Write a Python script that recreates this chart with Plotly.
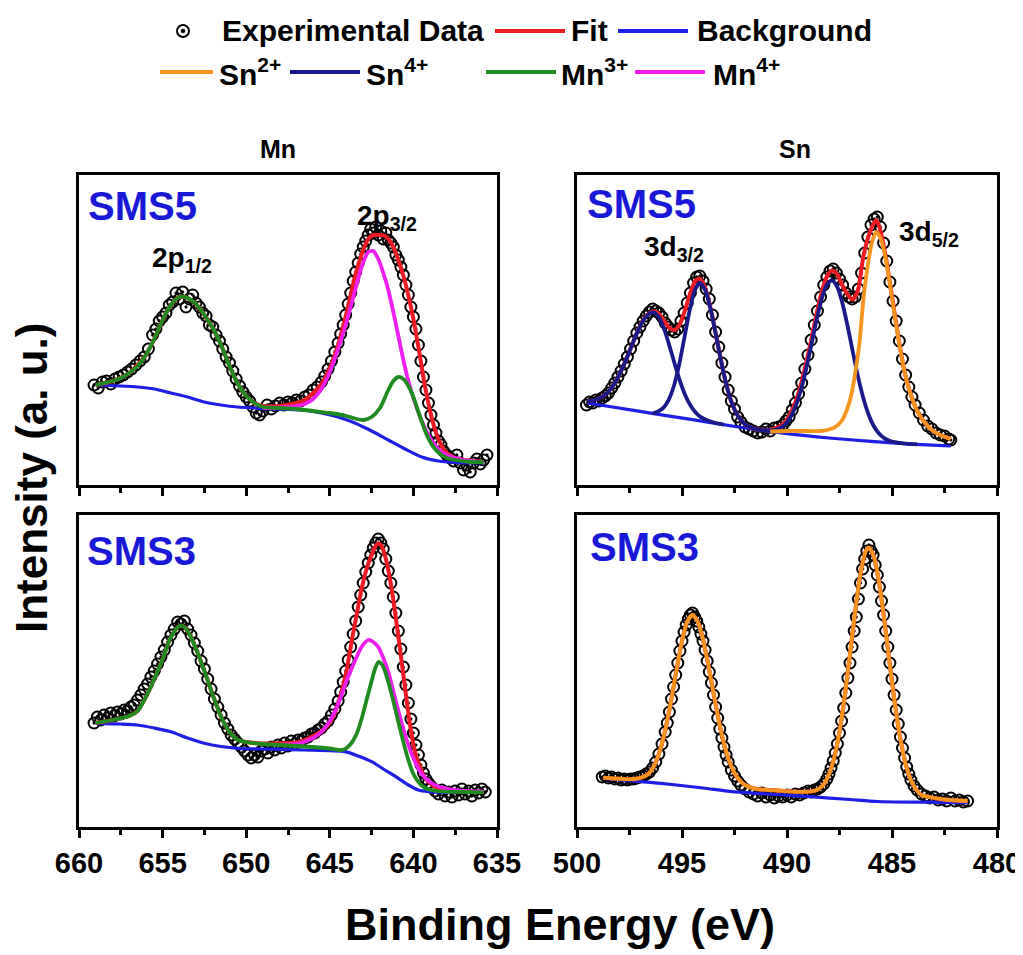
import plotly.graph_objects as go

# The page body adds an 8 px margin, so the figure is sized to fit the
# 1023x955 window and every layout position is given in window pixels.
OFF = 8
W, H = 1023 - OFF, 955 - OFF
FONT = "Liberation Sans, Arial, Helvetica, sans-serif"

# ------------------------------------------------------------------
# DATA  (binding energy in eV, intensity in arbitrary units)
# ------------------------------------------------------------------
# Mn 2p, SMS5
MN5_EXP = [(659.1,100),(658.85,97),(658.6,103),(658.35,104),(658.1,101),(657.85,106),(657.6,108),(657.35,110),
    (657.1,113),(656.85,116),(656.6,120),(656.35,124),(656.1,128),(655.85,136),(655.6,150),(655.4,156),(655.2,164),
    (655.0,168),(654.8,172),(654.6,180),(654.4,183),(654.2,192),(654.0,186),(653.8,193),(653.6,178),(653.4,186),
    (653.2,190),(653.0,182),(652.8,178),(652.6,172),(652.4,169),(652.2,160),(652.0,158),(651.8,150),(651.6,144),
    (651.4,136),(651.2,128),(651.0,122),(650.8,114),(650.6,106),(650.4,99),(650.2,93),(650.0,88),(649.8,84),
    (649.6,78),(649.4,72),(649.2,70),(649.0,74),(648.75,80),(648.5,76),(648.25,79),(648.0,82),(647.75,80),
    (647.5,83),(647.25,82),(647.0,85),(646.75,84),(646.5,88),(646.25,90),(646.0,95),(645.75,98),(645.5,103),
    (645.3,109),(645.1,116),(644.9,124),(644.7,133),(644.5,142),(644.35,151),(644.2,160),(644.05,170),(643.9,181),
    (643.75,192),(643.6,204),(643.45,213),(643.3,222),(643.15,231),(643.0,238),(642.85,244),(642.7,250),(642.55,256),
    (642.4,252),(642.25,258),(642.1,250),(641.95,254),(641.8,246),(641.65,252),(641.5,245),(641.35,242),(641.2,238),
    (641.05,230),(640.9,225),(640.75,218),(640.6,210),(640.45,200),(640.3,190),(640.15,178),(640.0,168),(639.85,156),
    (639.7,140),(639.55,124),(639.4,108),(639.25,95),(639.1,82),(638.95,70),(638.8,60),(638.65,52),(638.5,44),
    (638.35,40),(638.2,34),(638.0,30),(637.8,27),(637.6,24),(637.4,30),(637.2,22),(637.0,15),(636.8,20),(636.6,13),
    (636.4,22),(636.2,26),(636.0,21),(635.8,25),(635.6,30)]
MN5_BG = [(659.0,100),(657.5,99),(656.5,98),(655.5,96),(654.5,92),(653.5,88),(652.5,83),(651.5,80),(650.5,78),
    (649.5,77),(648.5,76),(647.5,75.5),(646.5,74.5),(645.5,72),(644.5,68),(643.5,62),(642.5,54),(641.5,45),
    (640.5,36),(639.5,28),(638.5,24),(637.5,22.5),(636.5,22),(635.8,22)]
MN5_FIT = [(659.0,100),(658.0,104),(657.0,112),(656.0,130),(655.5,146),(655.0,165),(654.5,180),(654.0,188),
    (653.5,187),(653.0,181),(652.5,170),(652.0,157),(651.5,140),(651.0,119),(650.5,101),(650.0,89),(649.5,82),
    (649.0,79),(648.0,79),(647.0,82),(646.5,85),(646.0,92),(645.5,101),(645.0,117),(644.5,140),(644.0,172),
    (643.5,208),(643.0,235),(642.7,246),(642.4,250),(642.0,250),(641.7,249),(641.4,244),(641.1,234),(640.8,220),
    (640.5,203),(640.2,182),(639.9,157),(639.6,128),(639.3,98),(639.0,74),(638.7,55),(638.4,42),(638.0,32),
    (637.5,27),(636.5,24),(635.8,23)]
MN5_MN3 = [(659.0,100),(658.0,104),(657.5,107),(657.0,112),(656.5,119),(656.0,130),(655.5,146),(655.0,165),
    (654.5,180),(654.0,188),(653.5,187),(653.0,181),(652.5,170),(652.0,157),(651.5,140),(651.0,119),(650.5,101),
    (650.0,89),(649.5,82),(649.0,78),(648.0,77),(647.0,76),(646.0,74),(645.0,72),(644.0,69),(643.5,66.5),
    (643.0,65),(642.5,68),(642.0,77),(641.5,95),(641.2,104),(640.9,108),(640.6,106),(640.3,99),(640.0,88),
    (639.6,68),(639.2,50),(638.8,38),(638.4,31),(638.0,27),(637.5,25),(636.5,23),(635.8,23)]
MN5_MN4 = [(649.0,77),(648.0,77.5),(647.0,79),(646.5,81),(646.0,86),(645.5,96),(645.0,113),(644.5,136),
    (644.0,163),(643.5,194),(643.1,218),(642.7,233),(642.4,234),(642.1,226),(641.8,212),(641.5,195),(641.2,173),
    (640.9,149),(640.6,125),(640.3,104),(640.0,87),(639.5,64),(639.0,47),(638.5,36),(638.0,30),(637.5,27),
    (636.5,24),(635.8,23)]

# Sn 3d, SMS5
SN5_EXP = [(499.55,80),(499.4,83),(499.25,82),(499.1,85),(498.95,84),(498.8,87),(498.65,89),(498.5,92),
    (498.35,97),(498.2,102),(498.05,108),(497.9,114),(497.75,121),(497.6,128),(497.45,136),(497.3,144),
    (497.15,152),(497.0,158),(496.85,164),(496.7,169),(496.55,173),(496.4,176),(496.25,174),(496.1,172),
    (495.95,168),(495.8,162),(495.65,158),(495.5,155),(495.35,153),(495.2,156),(495.05,164),(494.9,172),
    (494.75,182),(494.6,192),(494.45,202),(494.3,208),(494.15,209),(494.0,204),(493.85,196),(493.7,186),
    (493.55,170),(493.4,153),(493.25,138),(493.1,122),(492.95,108),(492.8,95),(492.65,84),(492.5,76),
    (492.35,68),(492.2,63),(492.0,58),(491.8,56),(491.6,54),(491.4,52),(491.2,53),(491.0,56),(490.8,54),
    (490.6,57),(490.4,58),(490.2,60),(490.05,64),(489.9,68),(489.75,75),(489.6,82),(489.45,91),(489.3,102),
    (489.15,116),(489.0,130),(488.85,145),(488.7,160),(488.55,174),(488.4,188),(488.25,200),(488.1,208),
    (487.95,214),(487.8,216),(487.65,212),(487.5,206),(487.35,200),(487.2,192),(487.05,188),(486.9,186),
    (486.75,188),(486.6,196),(486.45,212),(486.3,232),(486.15,248),(486.0,260),(485.85,266),(485.7,268),
    (485.55,258),(485.4,242),(485.25,224),(485.1,203),(484.95,184),(484.8,164),(484.65,144),(484.5,126),
    (484.35,110),(484.2,98),(484.05,88),(483.9,80),(483.7,72),(483.5,65),(483.3,59),(483.1,56),(482.9,52),
    (482.7,50),(482.5,49),(482.3,46),(482.2,45)]
SN5_BG = [(499.5,82),(497.0,73.6),(494.5,65.3),(492.0,57),(490.0,51.3),(488.0,47),(486.0,43.6),(484.0,40.8),
    (482.2,39)]
SN5_FIT = [(499.5,83.7),(499.0,86),(498.6,91.4),(498.35,97.4),(498.1,105.8),(497.85,116.4),(497.6,128.6),
    (497.35,141.7),(497.1,154.4),(496.85,165),(496.6,171.1),(496.35,173.7),(496.1,171.1),(495.85,164.1),
    (495.6,157.1),(495.35,155),(495.1,161.1),(494.85,175.1),(494.6,192.3),(494.35,204.7),(494.14,206.3),
    (493.89,196.6),(493.64,176.8),(493.39,150.9),(493.14,123.9),(492.89,100.6),(492.64,82.8),(492.39,70.9),
    (492.14,63.6),(491.89,59.3),(491.64,57),(491.3,55.2),(490.87,55),(490.37,58.5),(490.12,62.5),(489.87,70),
    (489.62,81.5),(489.37,98),(489.12,119),(488.87,142.6),(488.62,168.3),(488.37,191.1),(488.12,207.5),
    (487.87,214.5),(487.62,211),(487.37,199.8),(487.12,190.6),(486.87,185.6),(486.62,195),(486.37,228),
    (486.12,248.7),(485.87,261.6),(485.75,264.8),(485.62,259.5),(485.37,236.3),(485.12,205.1),(484.87,170.9),
    (484.62,137.6),(484.37,110),(484.05,87),(483.8,74),(483.5,64),(483.1,55),(482.7,50),(482.2,46)]
SN5_SN4_A = [(499.5,83.7),(499.0,86),(498.6,91.4),(498.35,97.4),(498.1,105.8),(497.85,116.4),(497.6,128.6),
    (497.35,141.7),(497.1,154.1),(496.85,164.2),(496.6,170.7),(496.35,172.5),(496.1,167.7),(495.85,155.8),
    (495.6,139.3),(495.35,121.2),(495.1,104.2),(494.85,90.1),(494.6,79.7),(494.35,72.5),(494.1,67.8),
    (493.6,63.2),(493.0,60.3)]
SN5_SN4_B = [(496.4,71.5),(496.14,73.5),(495.89,77.1),(495.64,84.9),(495.39,98.7),(495.14,120),(494.89,146.8),
    (494.64,174.1),(494.39,194.8),(494.14,202),(493.89,194.6),(493.64,176),(493.39,150.6),(493.14,123.9),
    (492.89,100.6),(492.64,82.8),(492.39,70.9),(492.14,63.6),(491.89,59.3),(491.64,57),(491.3,55)]
SN5_SN4_C = [(491.37,55.2),(490.87,54.5),(490.62,55),(490.37,56.5),(490.12,60.1),(489.87,66.6),(489.62,77.2),
    (489.37,92.7),(489.12,113.2),(488.87,137.3),(488.62,162.3),(488.37,184.5),(488.12,199.7),(487.87,204.7),
    (487.62,198.7),(487.37,182.6),(487.12,159.5),(486.87,133.6),(486.62,108.6),(486.37,87.2),(486.12,70.7),
    (485.87,59),(485.62,51.5),(485.37,46.9),(485.12,44.3),(484.87,42.8),(484.37,41.3),(483.8,40.7)]
SN5_SN2 = [(490.8,53.5),(490.0,54),(489.0,54),(488.4,54),(488.0,55.5),(487.7,58),(487.4,64),(487.15,75),
    (486.95,89),(486.75,112),(486.55,142),(486.35,188),(486.15,220),(485.95,243),(485.75,253),(485.55,247),
    (485.3,226),(485.05,194),(484.8,160),(484.55,129),(484.3,104),(484.05,87),(483.8,74),(483.5,64),(483.1,55),
    (482.7,50),(482.2,46)]

# Mn 2p, SMS3
MN3_EXP = [(659.1,104),(658.9,110),(658.7,107),(658.5,112),(658.3,109),(658.1,114),(657.9,111),(657.7,115),
    (657.5,113),(657.3,117),(657.1,116),(656.9,120),(656.7,122),(656.5,127),(656.3,132),(656.1,138),(655.9,143),
    (655.7,150),(655.5,156),(655.3,163),(655.1,170),(654.9,177),(654.7,185),(654.5,192),(654.3,198),(654.1,205),
    (653.9,203),(653.7,206),(653.5,198),(653.3,192),(653.1,184),(652.9,176),(652.7,166),(652.5,158),(652.3,148),
    (652.1,138),(651.9,128),(651.7,120),(651.5,112),(651.3,104),(651.1,98),(650.9,92),(650.7,88),(650.5,84),
    (650.3,80),(650.1,76),(649.9,72),(649.7,69),(649.5,72),(649.3,70),(649.1,76),(648.9,78),(648.7,74),(648.5,80),
    (648.3,77),(648.1,82),(647.9,79),(647.7,84),(647.5,81),(647.3,86),(647.1,83),(646.9,87),(646.7,86),(646.5,89),
    (646.3,90),(646.1,93),(645.9,94),(645.7,97),(645.5,99),(645.3,103),(645.1,106),(644.9,112),(644.7,118),
    (644.5,126),(644.35,135),(644.2,145),(644.05,156),(643.9,167),(643.75,180),(643.6,193),(643.45,206),
    (643.3,220),(643.15,232),(643.0,244),(642.85,255),(642.7,264),(642.55,272),(642.4,279),(642.25,284),
    (642.1,288),(641.95,284),(641.8,278),(641.65,268),(641.5,256),(641.35,244),(641.2,230),(641.05,214),
    (640.9,196),(640.75,178),(640.6,160),(640.45,142),(640.3,124),(640.15,108),(640.0,94),(639.85,82),(639.7,72),
    (639.55,62),(639.4,54),(639.25,48),(639.1,44),(638.9,40),(638.7,36),(638.5,33),(638.3,37),(638.1,31),
    (637.9,35),(637.7,30),(637.5,36),(637.3,32),(637.1,38),(636.9,33),(636.7,36),(636.5,31),(636.3,37),
    (636.1,34),(635.9,38),(635.7,35)]
MN3_BG = [(659.0,103.7),(657.5,103),(656.5,102),(655.5,99),(654.5,95.3),(653.5,89),(652.5,83.7),(651.5,80.5),
    (650.5,78.7),(648.5,77.8),(646.5,77),(644.1,75.3),(643.3,71),(642.5,65.3),(641.7,57),(640.9,48.7),(640.3,42),
    (639.7,37),(639.1,35.3),(638.5,34.7),(635.8,34.7)]
MN3_FIT = [(659.0,104),(658.0,107),(657.0,111),(656.5,116),(656.0,130),(655.5,148),(655.0,168),(654.5,190),
    (654.0,201),(653.7,200),(653.4,193),(653.0,178),(652.5,156),(652.0,132),(651.5,110),(651.0,95),(650.5,87),
    (650.0,85),(649.0,83.5),(648.1,83.7),(647.0,84.5),(646.5,87),(646.0,91),(645.5,96),(645.1,102),(644.7,114),
    (644.3,135),(644.0,156),(643.7,185),(643.4,212),(643.1,238),(642.8,258),(642.5,272),(642.3,280),(642.1,283.7),
    (641.9,281),(641.6,265),(641.35,243),(641.1,215),(640.8,178),(640.5,139),(640.2,102),(639.9,75),(639.6,60),
    (639.3,49),(638.9,42),(638.5,38.5),(638.1,37),(637.0,35.5),(635.8,35.3)]
MN3_MN3 = [(659.0,104),(658.0,107),(657.0,111),(656.5,116),(656.0,130),(655.5,148),(655.0,168),(654.5,190),
    (654.0,201),(653.7,200),(653.4,193),(653.0,178),(652.5,156),(652.0,132),(651.5,110),(651.0,95),(650.5,87),
    (650.0,85),(649.0,83),(648.0,82),(647.0,81),(646.0,80),(645.0,78.5),(644.3,77),(644.0,79),(643.7,84),
    (643.4,93),(643.1,108),(642.8,127),(642.5,146),(642.3,158),(642.1,165),(641.9,163),(641.7,156),(641.5,145),
    (641.2,126),(640.9,105),(640.6,85),(640.3,67),(640.0,53),(639.7,45),(639.3,39),(638.8,36.5),(638.1,35.3),
    (637.0,35),(635.8,34.7)]
MN3_MN4 = [(648.1,82),(647.0,83),(646.5,85.3),(646.0,89),(645.5,95),(645.0,106),(644.5,123),(644.0,146),
    (643.5,166),(643.1,180),(642.7,187),(642.4,185),(642.1,180),(641.8,169),(641.5,155),(641.1,129),(640.7,104),
    (640.3,82),(639.9,65),(639.5,53),(639.0,45),(638.5,40.5),(638.0,38.5),(637.0,36),(635.8,35.3)]

# Sn 3d, SMS3
SN3_EXP = [(498.8,50),(498.65,51),(498.5,49),(498.35,50),(498.2,48),(498.05,49),(497.9,47),(497.75,48),
    (497.6,47),(497.45,48),(497.3,48),(497.15,49),(497.0,50),(496.85,51),(496.7,53),(496.55,55),(496.4,59),
    (496.25,65),(496.1,73),(495.95,83),(495.8,95),(495.7,104),(495.6,115),(495.5,128),(495.4,140),(495.3,152),
    (495.2,164),(495.1,176),(495.0,186),(494.9,195),(494.8,202),(494.7,208),(494.6,212),(494.5,214),(494.4,210),
    (494.3,206),(494.2,200),(494.1,193),(494.0,186),(493.9,177),(493.8,166),(493.7,155),(493.6,144),(493.5,132),
    (493.4,120),(493.3,109),(493.2,98),(493.1,89),(493.0,80),(492.9,72),(492.8,65),(492.65,57),(492.5,51),
    (492.35,46),(492.2,42),(492.0,38),(491.8,35),(491.6,33),(491.4,31),(491.2,34),(491.0,30),(490.8,32),
    (490.6,29),(490.4,31),(490.2,30),(490.0,32),(489.8,30),(489.6,33),(489.4,32),(489.2,34),(489.0,36),
    (488.85,35),(488.7,37),(488.55,38),(488.4,40),(488.25,43),(488.1,48),(488.0,53),(487.9,59),(487.8,66),
    (487.7,74),(487.6,83),(487.5,94),(487.4,106),(487.3,119),(487.2,134),(487.1,149),(487.0,164),(486.9,180),
    (486.8,196),(486.7,210),(486.6,228),(486.5,244),(486.4,258),(486.3,268),(486.2,276),(486.1,282),(486.0,276),
    (485.9,272),(485.8,262),(485.7,252),(485.6,240),(485.5,226),(485.4,212),(485.3,196),(485.2,180),(485.1,164),
    (485.0,148),(484.9,132),(484.8,117),(484.7,103),(484.6,90),(484.5,79),(484.4,69),(484.3,60),(484.2,53),
    (484.1,47),(483.95,41),(483.8,37),(483.6,33),(483.4,31),(483.2,29),(483.0,30),(482.8,27),(482.6,28),
    (482.4,26),(482.2,29),(482.0,26),(481.8,27),(481.6,25),(481.4,26)]
SN3_BG = [(498.75,48.7),(496.0,43.6),(494.0,39),(492.6,35.3),(490.5,32.5),(488.9,30.3),(487.0,27.5),
    (485.7,25.5),(483.5,24.8),(481.4,24.3)]
SN3_SN2 = [(498.75,49.3),(498.25,48.5),(497.75,48),(497.25,48),(496.75,51),(496.5,55.4),(496.25,64.7),
    (496.0,79.9),(495.75,101.3),(495.5,128.6),(495.25,158.4),(495.0,185.9),(494.75,205.4),(494.5,212),
    (494.25,205.4),(494.0,187.8),(493.75,162.4),(493.5,134.1),(493.25,106.7),(493.0,83.2),(492.75,66),
    (492.5,54),(492.25,46.5),(492.0,42),(491.5,38.2),(491.0,37.2),(490.5,36.5),(490.0,35.8),(489.5,35.2),
    (489.0,35.3),(488.75,36),(488.5,37.9),(488.25,42.7),(488.0,52.7),(487.75,69.5),(487.5,95.5),(487.25,131),
    (487.0,173),(486.75,216),(486.5,253.4),(486.25,275.8),(486.1,279.4),(485.85,269.4),(485.6,242.5),
    (485.35,204.4),(485.1,161.8),(484.85,121.6),(484.6,88.1),(484.35,63.1),(484.1,47),(483.85,37.4),(483.6,32),
    (483.1,29.5),(482.5,27.5),(481.9,26.5),(481.4,26)]
SN3_FIT = SN3_SN2  # the fit coincides with the single Sn2+ component

MN_TICKS = [660, 655, 650, 645, 640, 635]
SN_TICKS = [500, 495, 490, 485, 480]

# ------------------------------------------------------------------
RED = "#ec1c24"
BLUE = "#1e1ee4"
NAVY = "#1a1a8a"
ORANGE = "#f7941d"
GREEN = "#1f8c1f"
MAGENTA = "#f01ef0"
LABEL_BLUE = "#1818d6"


def px(x):
    return (x - OFF) / W


def py(y):
    return 1 - (y - OFF) / H


def unzip(pairs):
    return [p[0] for p in pairs], [p[1] for p in pairs]


fig = go.Figure()


def add_line(pairs, color, width, xa, ya):
    x, y = unzip(pairs)
    fig.add_trace(go.Scatter(x=x, y=y, mode="lines", xaxis=xa, yaxis=ya,
                             line=dict(color=color, width=width, shape="spline", smoothing=0.7),
                             hoverinfo="skip"))


def add_panel(idx, exp, bg, fit, comps):
    xa = "x" if idx == 1 else f"x{idx}"
    ya = "y" if idx == 1 else f"y{idx}"
    x, y = unzip(exp)
    fig.add_trace(go.Scatter(x=x, y=y, mode="markers", xaxis=xa, yaxis=ya,
                             marker=dict(symbol="circle-open-dot", size=11, color="black",
                                         line=dict(width=2, color="black"))))
    add_line(bg, BLUE, 3.2, xa, ya)
    add_line(fit, RED, 4, xa, ya)
    for pairs, color in comps:
        add_line(pairs, color, 3.8, xa, ya)


add_panel(1, MN5_EXP, MN5_BG, MN5_FIT, [(MN5_MN4, MAGENTA), (MN5_MN3, GREEN)])
add_panel(2, SN5_EXP, SN5_BG, SN5_FIT, [(SN5_SN4_A, NAVY), (SN5_SN4_B, NAVY), (SN5_SN4_C, NAVY),
                                         (SN5_SN2, ORANGE)])
add_panel(3, MN3_EXP, MN3_BG, MN3_FIT, [(MN3_MN4, MAGENTA), (MN3_MN3, GREEN)])
add_panel(4, SN3_EXP, SN3_BG, SN3_FIT, [(SN3_SN2, ORANGE)])


def xaxis(px0, px1, rng, ticks, labels, anchor):
    return dict(domain=[px(px0), px(px1)], range=rng, anchor=anchor, automargin=False,
                showline=True, mirror=True, linecolor="black", linewidth=3,
                ticks="outside", ticklen=8, tickwidth=2.5, tickcolor="black",
                tickmode="array", tickvals=ticks, showticklabels=labels,
                tickfont=dict(family=FONT, size=29, color="black", weight="bold"),
                minor=dict(ticks="outside", ticklen=5, tickwidth=2.5, tickcolor="black", dtick=2.5,
                           showgrid=False),
                showgrid=False, zeroline=False)


def yaxis(py_top, py_bot, rng, anchor):
    return dict(domain=[py(py_bot), py(py_top)], range=rng, anchor=anchor, automargin=False,
                showline=True, mirror=True, linecolor="black", linewidth=3,
                showticklabels=False, ticks="", showgrid=False, zeroline=False)


fig.update_layout(
    width=W, height=H, margin=dict(l=0, r=0, t=0, b=0, autoexpand=False),
    paper_bgcolor="white", plot_bgcolor="white", showlegend=False,
    xaxis=xaxis(79, 497, [660, 635], MN_TICKS, False, "y"),
    yaxis=yaxis(175, 485, [0, 310], "x"),
    xaxis2=xaxis(577, 997, [500, 480], SN_TICKS, False, "y2"),
    yaxis2=yaxis(175, 485, [0, 310], "x2"),
    xaxis3=xaxis(79, 497, [660, 635], MN_TICKS, True, "y3"),
    yaxis3=yaxis(515, 827, [0, 312], "x3"),
    xaxis4=xaxis(577, 997, [500, 480], SN_TICKS, True, "y4"),
    yaxis4=yaxis(515, 827, [0, 312], "x4"),
)


def ann(text, x, y, size, color="black", xanchor="left", yanchor="middle", angle=0):
    fig.add_annotation(text=text, x=px(x), y=py(y), xref="paper", yref="paper", showarrow=False,
                       font=dict(family=FONT, size=size, color=color, weight="bold"),
                       xanchor=xanchor, yanchor=yanchor, textangle=angle)


# panel labels
ann("SMS5", 86, 206, 40, LABEL_BLUE)
ann("SMS5", 585, 204, 40, LABEL_BLUE)
ann("SMS3", 85, 551, 40, LABEL_BLUE)
ann("SMS3", 588, 547, 40, LABEL_BLUE)
ann("2p<sub>1/2</sub>", 150, 259, 28)
ann("2p<sub>3/2</sub>", 355, 218, 28)
ann("3d<sub>3/2</sub>", 642, 248, 28)
ann("3d<sub>5/2</sub>", 897, 233, 28)

# column titles and axis titles
ann("Mn", 278, 149, 25, xanchor="center")
ann("Sn", 795, 149, 25, xanchor="center")
ann("Intensity (a. u.)", 31, 478, 44, xanchor="center", angle=-90)
ann("Binding Energy (eV)", 560, 924, 45, xanchor="center")

# custom legend
ROW1, ROW2 = 31, 72


def leg_line(x0, x1, y, color):
    fig.add_shape(type="line", xref="paper", yref="paper", x0=px(x0), x1=px(x1),
                  y0=py(y), y1=py(y), line=dict(color=color, width=4))


fig.add_shape(type="circle", xref="paper", yref="paper", x0=px(183 - 6), x1=px(183 + 6),
              y0=py(ROW1 + 6), y1=py(ROW1 - 6), line=dict(color="black", width=2))
fig.add_shape(type="circle", xref="paper", yref="paper", x0=px(183 - 1.8), x1=px(183 + 1.8),
              y0=py(ROW1 + 1.8), y1=py(ROW1 - 1.8), line=dict(color="black", width=1),
              fillcolor="black")
ann("Experimental Data", 220, ROW1, 30)
leg_line(495, 565, ROW1, RED)
ann("Fit", 569, ROW1, 30)
leg_line(618, 688, ROW1, BLUE)
ann("Background", 695, ROW1, 30)

leg_line(160, 213, ROW2, ORANGE)
ann("Sn<sup>2+</sup>", 217, ROW2, 30)
leg_line(290, 360, ROW2, NAVY)
ann("Sn<sup>4+</sup>", 364, ROW2, 30)
leg_line(486, 556, ROW2, GREEN)
ann("Mn<sup>3+</sup>", 559, ROW2, 30)
leg_line(635, 705, ROW2, MAGENTA)
ann("Mn<sup>4+</sup>", 711, ROW2, 30)

fig.write_html("out.html")
